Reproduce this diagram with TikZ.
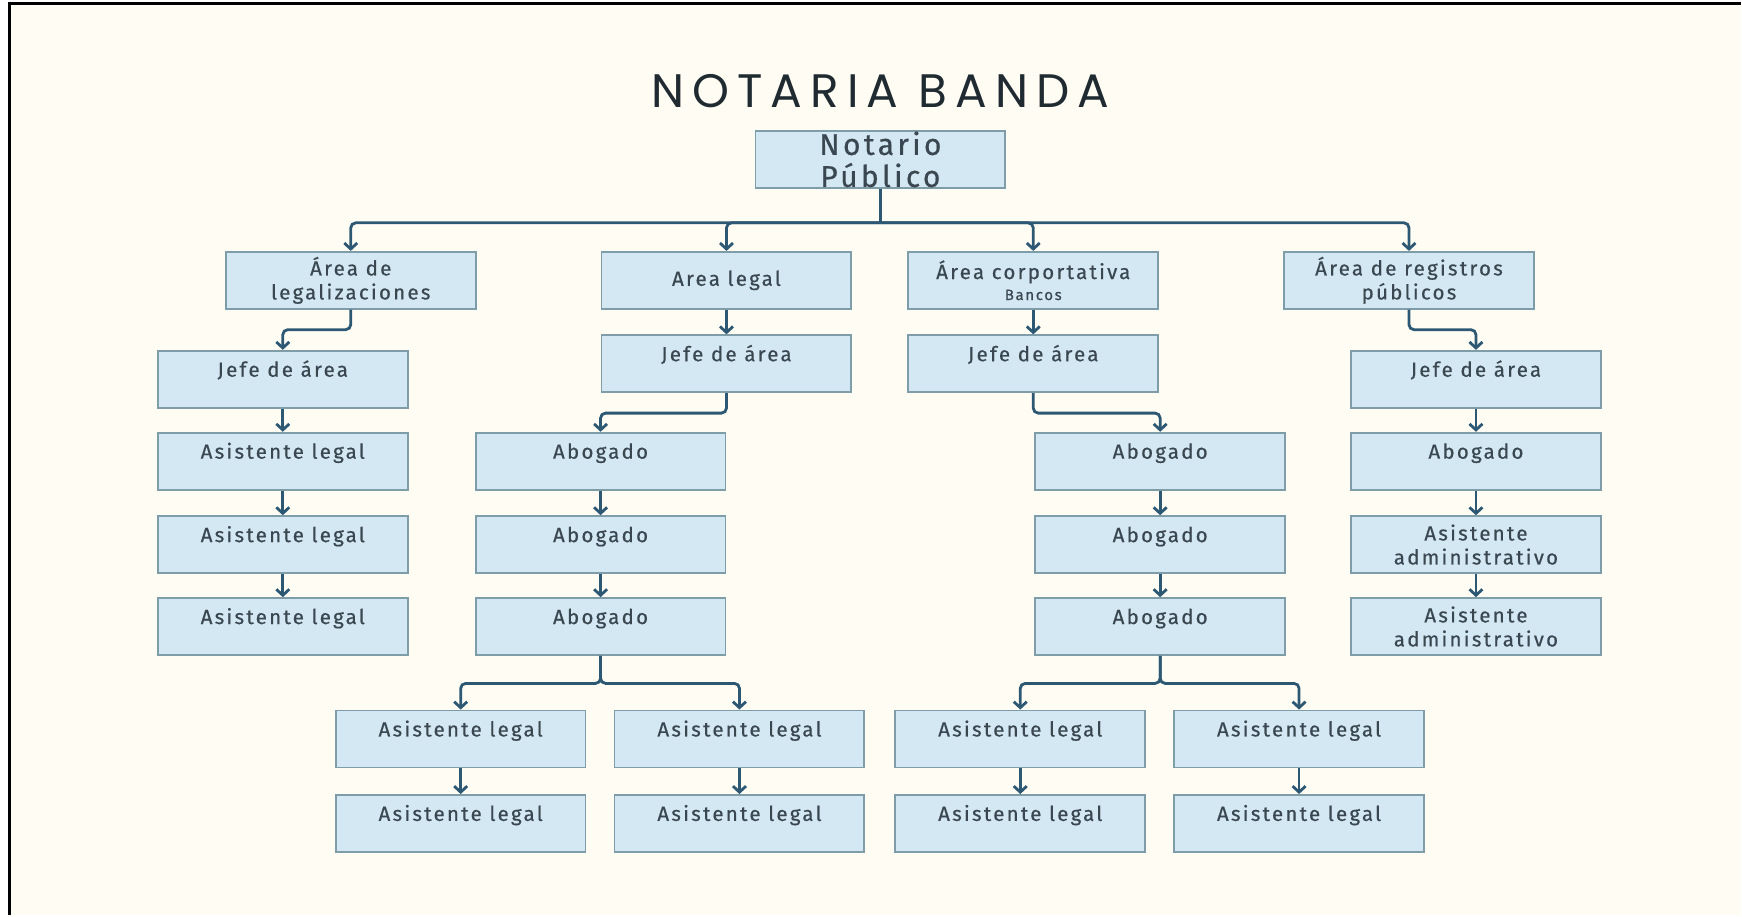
\documentclass[tikz,border=0pt]{standalone}
\usepackage{fontspec}
\setmainfont{Fira Sans}[LetterSpace=11, Ligatures=NoCommon, FakeBold=0.5]
\newfontfamily\titlefont{Poppins}[LetterSpace=17]
\usetikzlibrary{arrows.meta}

\definecolor{paper}{HTML}{FFFCF4}
\definecolor{boxfill}{HTML}{D3E8F2}
\definecolor{boxline}{HTML}{7F9CA9}
\definecolor{linkblue}{HTML}{2D5874}
\definecolor{inktext}{HTML}{3A4750}
\definecolor{titleink}{HTML}{1F2A31}

\begin{document}
\begin{tikzpicture}[x=1pt,y=-1pt,
    box/.style={draw=boxline, line width=1.8pt, fill=boxfill, minimum width=250pt, minimum height=57pt,
        inner sep=3pt, align=center, text=inktext, font=\fontsize{20.5}{24}\selectfont},
    toptext/.style={text height=23pt, text depth=28pt},
    bar/.style={draw=linkblue, line width=2.8pt},
    link/.style={bar, rounded corners=5pt, -{Straight Barb[length=6pt,width=13pt]}}]
    \fill[white] (0,0) rectangle (1742,916);
    \fill[paper] (9,3) rectangle (1742,916);
    \draw[line width=2.5pt] (9.5,916) -- (9.5,3.5) -- (1742,3.5);
    \useasboundingbox (0,0) rectangle (1742,916);

    \node[font=\titlefont\fontsize{47}{50}\selectfont, text=titleink] (title) at (881,91.5) {NOTARIA BANDA};
    \node[box, inner ysep=0pt, font=\fontsize{30}{32}\selectfont] (notario) at (881,159.5) {Notario\\Público};

    \node[box] (legaliz) at (351,280.5) {Área de\\legalizaciones};
    \node[box] (legal) at (727,280.5) {Area legal};
    \node[box] (corp) at (1034,280.5) {Área corportativa\\[-3pt]{\fontsize{15}{16}\selectfont Bancos}};
    \node[box] (registros) at (1410,280.5) {Área de registros\\públicos};

    \node[box, toptext] (jefeA) at (283,379.5) {Jefe de área};
    \node[box, toptext] (asisA1) at (283,461.5) {Asistente legal};
    \node[box, toptext] (asisA2) at (283,545) {Asistente legal};
    \node[box, toptext] (asisA3) at (283,627) {Asistente legal};

    \node[box, toptext] (jefeB) at (727,364) {Jefe de área};
    \node[box, toptext] (abogB1) at (601,461.5) {Abogado};
    \node[box, toptext] (abogB2) at (601,545) {Abogado};
    \node[box, toptext] (abogB3) at (601,627) {Abogado};
    \node[box, toptext] (asisB1) at (461,739.5) {Asistente legal};
    \node[box, toptext] (asisB2) at (740,739.5) {Asistente legal};
    \node[box, toptext] (asisB3) at (461,824) {Asistente legal};
    \node[box, toptext] (asisB4) at (740,824) {Asistente legal};

    \node[box, toptext] (jefeC) at (1034,364) {Jefe de área};
    \node[box, toptext] (abogC1) at (1161,461.5) {Abogado};
    \node[box, toptext] (abogC2) at (1161,545) {Abogado};
    \node[box, toptext] (abogC3) at (1161,627) {Abogado};
    \node[box, toptext] (asisC1) at (1021,739.5) {Asistente legal};
    \node[box, toptext] (asisC2) at (1300,739.5) {Asistente legal};
    \node[box, toptext] (asisC3) at (1021,824) {Asistente legal};
    \node[box, toptext] (asisC4) at (1300,824) {Asistente legal};

    \node[box, toptext] (jefeD) at (1477,379.5) {Jefe de área};
    \node[box, toptext] (abogD) at (1477,461.5) {Abogado};
    \node[box] (admD1) at (1477,545) {Asistente\\administrativo};
    \node[box] (admD2) at (1477,627) {Asistente\\administrativo};

    \coordinate (topbus) at (881,223);
    \draw[bar] (notario.south) -- (topbus);
    \draw[link] (topbus) -| (legaliz.north);
    \draw[link] (topbus) -| (legal.north);
    \draw[link] (topbus) -| (corp.north);
    \draw[link] (topbus) -| (registros.north);

    \draw[link] (legaliz.south) -- ++(0,20) -| (jefeA.north);
    \draw[link] (jefeA) -- (asisA1);
    \draw[link] (asisA1) -- (asisA2);
    \draw[link] (asisA2) -- (asisA3);

    \draw[link] (legal) -- (jefeB);
    \draw[link] (jefeB.south) -- ++(0,20) -| (abogB1.north);
    \draw[link] (abogB1) -- (abogB2);
    \draw[link] (abogB2) -- (abogB3);
    \draw[link] (abogB3.south) -- ++(0,27.5) -| (asisB1.north);
    \draw[link] (abogB3.south) -- ++(0,27.5) -| (asisB2.north);
    \draw[link] (asisB1) -- (asisB3);
    \draw[link] (asisB2) -- (asisB4);

    \draw[link] (corp) -- (jefeC);
    \draw[link] (jefeC.south) -- ++(0,20) -| (abogC1.north);
    \draw[link] (abogC1) -- (abogC2);
    \draw[link] (abogC2) -- (abogC3);
    \draw[link] (abogC3.south) -- ++(0,27.5) -| (asisC1.north);
    \draw[link] (abogC3.south) -- ++(0,27.5) -| (asisC2.north);
    \draw[link] (asisC1) -- (asisC3);
    \draw[link] (asisC2) -- (asisC4);

    \draw[link] (registros.south) -- ++(0,20) -| (jefeD.north);
    \draw[link] (jefeD) -- (abogD);
    \draw[link] (abogD) -- (admD1);
    \draw[link] (admD1) -- (admD2);
\end{tikzpicture}
\end{document}
